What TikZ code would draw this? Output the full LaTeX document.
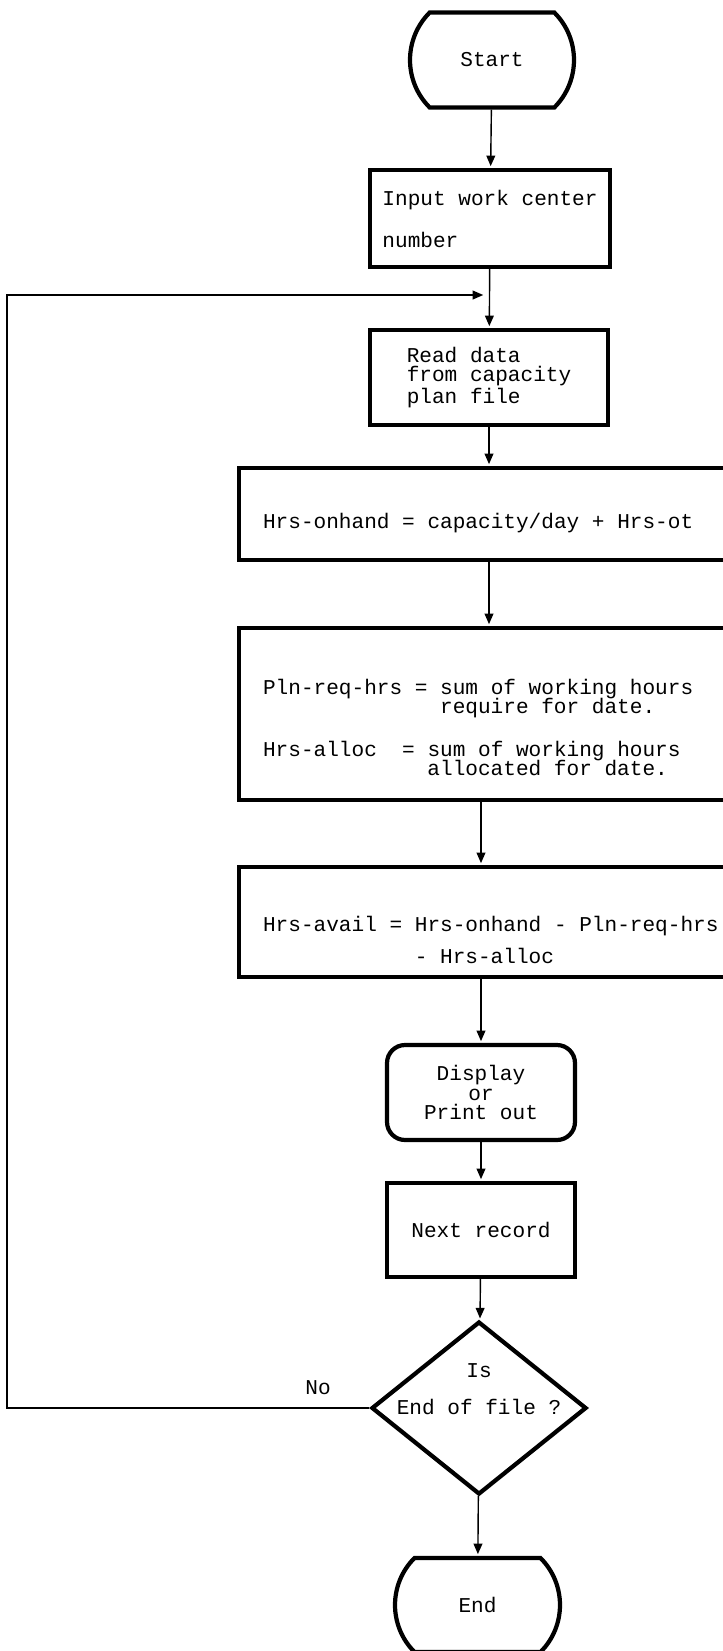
\documentclass[tikz,border=0pt]{standalone}
\usepackage{fontspec}
\setmonofont{Liberation Mono}
\usepackage{tikz}
\usetikzlibrary{shapes}
\usetikzlibrary{arrows.meta,positioning}
\newcommand{\widespaces}{\spaceskip=0.6em\relax}
\tikzset{chart font/.style={font=\ttfamily\fontsize{12pt}{11pt}\selectfont}}
\tikzset{base node/.style={chart font, draw, line width=2.4pt, inner sep=0pt}}
\tikzset{terminal node/.style={base node, rounded rectangle, rounded rectangle arc length=90,
    minimum width=3.28cm, minimum height=1.9cm}}
\tikzset{process node/.style={base node, rectangle, align=left}}
\tikzset{wide node/.style={base node, rectangle, align=left, text width=9.6cm, inner xsep=0.48cm}}
\tikzset{output node/.style={base node, rectangle, rounded corners=0.36cm, align=center,
    minimum width=3.76cm, minimum height=1.9cm}}
\tikzset{decision node/.style={base node, diamond, align=center, minimum width=4.3cm, minimum height=3.46cm}}
\tikzset{edge label/.style={chart font}}
\tikzset{regular edge/.style={draw, line width=0.8pt, shorten >=1pt, -{Triangle[length=6pt, width=5pt]}}}

\begin{document}
\begin{tikzpicture}
      [x=0.02cm, y=-0.02cm]
      \useasboundingbox (0, 0) rectangle (723, 1651);
      \node [terminal node]  (start)   at (492,   60)   {Start};
      \node [process node, minimum width=4.8cm, minimum height=1.94cm]
                             (input)   at (490,   218.5) {Input work center\\[11.7pt]number};
      \node [process node, minimum width=4.76cm, minimum height=1.9cm]
                             (read)    at (489,   377.5) {Read data\\from capacity\\plan file};
      \node [wide node, minimum height=1.84cm]
                             (onhand)  at (503,   514)  {\widespaces\rule{0pt}{19pt}Hrs-onhand = capacity/day + Hrs-ot};
      \node [wide node, minimum height=3.44cm]
                             (plnreq)  at (503,   714)  {\widespaces\rule{0pt}{24pt}Pln-req-hrs = sum of working hours\\[-1.5pt]%
        \hspace*{8.4em}require for date.\\[12.4pt]%
        Hrs-alloc\ \ = sum of working hours\\[-1.5pt]%
        \hspace*{7.8em}allocated for date.};
      \node [wide node, minimum height=2.2cm]
                             (avail)   at (503,   922)  {\widespaces\rule{0pt}{29pt}Hrs-avail = Hrs-onhand - Pln-req-hrs\\[6pt]%
        \hspace*{7.2em}- Hrs-alloc};
      \node [output node]    (display) at (481,   1092.5) {Display\\or\\Print out};
      \node [process node, minimum width=3.76cm, minimum height=1.88cm]
                             (next)    at (481,   1230) {Next record};
      \node [decision node]  (eof)     at (479,   1408)
        {\makebox[0pt]{Is}\\[10.5pt]\makebox[0pt]{End of file ?}\\[10.5pt]\mbox{}};
      \node [terminal node, minimum width=3.3cm, minimum height=1.88cm]
                             (stop)    at (477.5, 1605) {End};
      \node [edge label]     (no)      at (318,   1388) {No};
      \coordinate (back1) at (7,   295);
      \coordinate (back2) at (485, 295);

      \draw [regular edge]  (start) to (input);
      \draw [regular edge]  (input) to (read);
      \draw [regular edge]  (read.south) to (read.south |- onhand.north);
      \draw [regular edge]  (read.south |- onhand.south) to (read.south |- plnreq.north);
      \draw [regular edge]  (display.north |- plnreq.south) to (display.north |- avail.north);
      \draw [regular edge]  (display.north |- avail.south) to (display);
      \draw [regular edge]  (display) to (next);
      \draw [regular edge]  (next) to (eof);
      \draw [regular edge]  (eof) to (stop);
      \draw [regular edge]  (eof.west) -- (eof.west -| back1) -- (back1) -- (back2);
    \end{tikzpicture}
\end{document}
